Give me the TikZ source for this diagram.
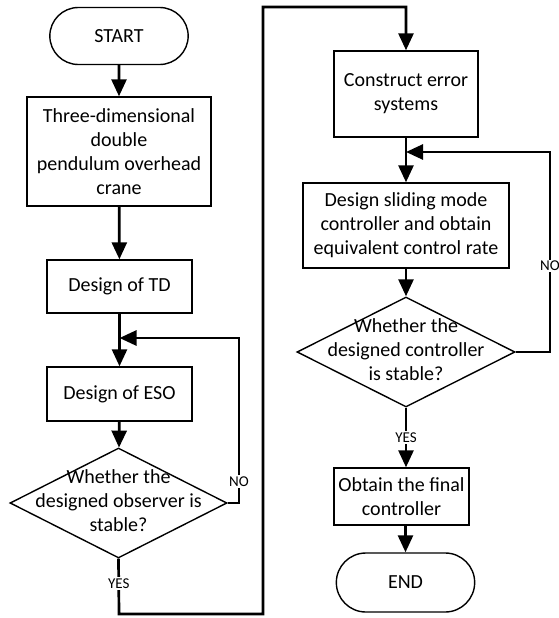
\documentclass[tikz,border=0pt]{standalone}
\usepackage{fontspec}
\setmainfont{Carlito}
\usetikzlibrary{arrows.meta,shapes.geometric,shapes.misc}

\newcommand{\dtext}[1]{\makebox[0pt]{\begin{tabular}{@{}c@{}}#1\end{tabular}}}

\begin{document}
\begin{tikzpicture}[
  x=1pt, y=-1pt,
  every node/.style={font=\fontsize{20}{24}\selectfont},
  term/.style={draw, rounded rectangle, line width=1.4pt, minimum width=145pt, minimum height=57pt},
  block/.style={draw, line width=1.4pt, align=center, inner sep=0pt},
  decision/.style={draw, diamond, line width=1.4pt, inner sep=0pt, minimum width=217pt, minimum height=110pt},
  arrow/.style={-{Triangle[length=17pt, width=15pt]}, line width=2.7pt},
  lbl/.style={fill=white, inner sep=1.5pt, font=\fontsize{15}{17}\selectfont}
]
\useasboundingbox (0,0) rectangle (558,618);

% left column
\node[term] (start) at (119,36) {START};
\node[block, minimum width=184pt, minimum height=109pt] (crane) at (119,151.5) {Three-dimensional\\double\\pendulum overhead\\crane};
\node[block, minimum width=145pt, minimum height=53pt] (td) at (119.5,286.5) {Design of TD};
\node[block, minimum width=145pt, minimum height=54pt] (eso) at (119.5,394) {Design of ESO};
\node[decision] (check1) at (118.5,503) {\dtext{Whether the\\designed observer is\\stable?}};

% right column
\node[block, minimum width=144pt, minimum height=86pt] (construct) at (406,94) {Construct error\\systems};
\node[block, minimum width=206pt, minimum height=85pt] (sliding) at (406,225.5) {Design sliding mode\\controller and obtain\\equivalent control rate};
\node[decision, minimum width=218pt] (check2) at (406,352) {\dtext{Whether the\\designed controller\\is stable?}};
\node[block, minimum width=135pt, minimum height=57pt] (final) at (401.5,496.5) {Obtain the final\\controller};
\node[term, minimum height=59pt] (end) at (405.5,582.5) {END};

\coordinate (join1) at (119.5,338);
\coordinate (noL) at (239,338);
\coordinate (low) at (119,614);
\coordinate (high) at (263,7);
\coordinate (join2) at (406,152);
\coordinate (noR) at (550,152);

\draw[arrow] (start) -- (crane);
\draw[arrow] (crane) -- (td);
\draw[arrow] (td) -- (eso);
\draw[arrow] (eso) -- (check1);
\draw[arrow] (check1.east) -| node[lbl, pos=0.564]{NO} (noL) -- (join1);
\draw[arrow] (check1.south) -- node[lbl, pos=0.45]{YES} (low) -| (high) -| (construct.north);

\draw[arrow] (construct) -- (sliding);
\draw[arrow] (sliding) -- (check2);
\draw[arrow] (check2.east) -| node[lbl, pos=0.715]{NO} (noR) -- (join2);
\draw[arrow] (check2.south) -- node[lbl]{YES} (check2.south |- final.north);
\draw[arrow] (end.north |- final.south) -- (end.north);
\end{tikzpicture}
\end{document}
